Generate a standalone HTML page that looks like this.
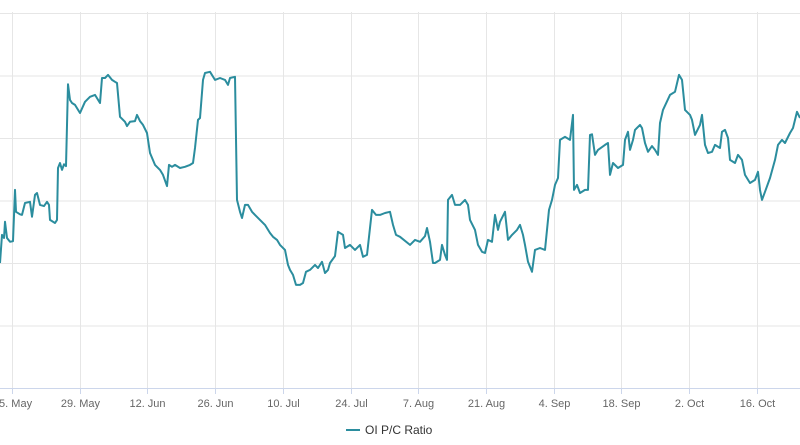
<!DOCTYPE html>
<html><head><meta charset="utf-8"><style>
body{margin:0;background:#fff;}
svg{display:block;font-family:"Liberation Sans",sans-serif;}
</style></head><body>
<svg id="chart" width="800" height="445" viewBox="0 0 800 445">
<g id="grid"></g>
<g id="xaxis"></g>
<path id="line" fill="none" stroke="#2b8d9e" stroke-width="2" stroke-linejoin="round"></path>
<g>
<line x1="346" y1="430" x2="360" y2="430" stroke="#2b8d9e" stroke-width="2"/>
<text x="365" y="434" font-size="12" fill="#333">OI P/C Ratio</text>
</g>
</svg>
<script>
const tickLabels=["15. May","29. May","12. Jun","26. Jun","10. Jul","24. Jul","7. Aug","21. Aug","4. Sep","18. Sep","2. Oct","16. Oct"];
const tickDays=[0,14,28,42,56,70,84,98,112,126,140,154];
const yTicks=[0,1,2,3,4,5,6];
const days=[-2.48,-2.07,-1.65,-1.45,-1.03,-0.41,0.21,0.62,0.83,1.65,2.07,2.69,3.72,4.14,4.76,5.17,5.79,6.62,7.24,7.65,7.86,8.89,9.31,9.51,9.93,10.34,10.75,11.17,11.58,11.99,12.41,13.03,14.06,15.10,16.13,17.16,18.20,18.61,19.23,19.85,20.68,21.30,21.71,22.33,23.37,23.78,24.40,25.44,25.85,26.47,27.09,27.92,28.54,29.57,30.61,31.23,32.05,32.47,33.09,33.71,34.74,35.78,36.81,37.43,37.84,38.46,38.88,39.50,39.91,40.95,41.98,43.01,44.05,44.67,45.08,46.12,46.53,47.15,47.56,48.18,48.80,49.63,50.25,51.29,52.32,53.35,53.97,54.80,55.42,56.46,57.08,57.49,58.11,58.73,59.56,60.18,60.80,61.63,62.66,63.28,64.11,64.73,65.35,65.76,66.80,67.42,68.45,68.86,69.90,70.93,71.97,72.59,73.41,74.45,75.28,76.10,77.14,78.17,78.79,79.41,80.24,82.31,83.34,84.37,85.41,85.82,86.44,87.06,87.48,88.51,88.92,89.54,89.96,90.16,90.99,91.61,92.65,93.68,94.30,94.71,95.75,96.37,97.20,97.82,98.44,99.26,99.88,100.50,100.92,101.95,102.57,103.40,104.43,105.05,105.67,106.09,106.71,107.54,108.16,109.19,110.22,111.05,111.67,112.29,112.91,113.33,114.36,115.39,116.01,116.22,116.84,117.46,118.50,119.12,119.53,119.94,120.56,121.18,122.63,123.25,123.66,124.28,125.32,126.35,126.77,127.39,127.80,128.42,128.84,129.87,130.28,130.90,131.52,132.35,132.97,133.59,134.01,134.63,136.07,137.11,137.94,138.56,139.18,140.21,140.62,141.24,142.28,142.69,143.31,143.93,144.76,145.38,146.41,146.83,147.45,148.07,148.48,149.52,150.14,150.96,151.58,152.62,153.65,154.27,154.69,155.10,155.72,156.75,157.79,158.41,159.24,159.86,160.89,161.51,161.93,162.34,162.96];
const ratios=[2.00,2.45,2.40,2.66,2.40,2.34,2.35,3.17,2.82,2.78,2.77,2.96,2.98,2.74,3.09,3.12,2.93,2.91,2.98,2.93,2.69,2.64,2.69,3.52,3.60,3.49,3.58,3.55,4.86,4.61,4.56,4.53,4.40,4.58,4.66,4.69,4.56,4.96,4.96,5.01,4.93,4.90,4.88,4.34,4.26,4.19,4.26,4.27,4.37,4.27,4.21,4.08,3.76,3.57,3.49,3.41,3.23,3.57,3.54,3.57,3.52,3.54,3.57,3.60,3.84,4.29,4.32,4.93,5.04,5.06,4.93,4.96,4.93,4.85,4.96,4.98,3.01,2.82,2.72,2.93,2.93,2.82,2.77,2.69,2.61,2.48,2.42,2.37,2.29,2.21,1.97,1.89,1.81,1.65,1.65,1.68,1.86,1.89,1.97,1.92,2.02,1.84,1.89,2.00,2.11,2.50,2.45,2.24,2.29,2.21,2.29,2.10,2.13,2.85,2.77,2.77,2.80,2.82,2.61,2.45,2.42,2.29,2.37,2.34,2.43,2.56,2.34,2.00,2.00,2.05,2.29,2.13,2.05,3.01,3.09,2.93,2.93,3.01,2.93,2.69,2.53,2.29,2.18,2.16,2.37,2.34,2.77,2.53,2.66,2.82,2.37,2.45,2.53,2.61,2.45,2.29,2.02,1.86,2.21,2.24,2.21,2.85,3.01,3.25,3.36,3.97,4.02,3.97,4.37,3.17,3.25,3.12,3.17,3.17,4.05,4.06,3.73,3.81,3.89,3.92,3.41,3.60,3.52,3.57,3.97,4.10,3.81,3.97,4.13,4.21,4.16,3.92,3.78,3.87,3.81,3.73,4.24,4.45,4.69,4.74,5.01,4.93,4.45,4.37,4.29,4.05,4.21,4.37,3.89,3.76,3.78,3.89,3.84,4.10,4.13,4.00,3.65,3.60,3.73,3.65,3.41,3.28,3.33,3.46,3.17,3.01,3.14,3.36,3.65,3.89,3.97,3.92,4.08,4.16,4.29,4.42,4.32];
const NS="http://www.w3.org/2000/svg";
const X0=12, PXDAY=67.7/14, YB=388, PXUNIT=62.5;
function xs(d){return X0+d*PXDAY;}
function ys(v){return YB-v*PXUNIT;}
const grid=document.getElementById('grid'), xa=document.getElementById('xaxis');
yTicks.forEach(t=>{
  if(t===0)return;
  const l=document.createElementNS(NS,'line');
  
  
  l.setAttribute('x1',0);l.setAttribute('x2',800);
  l.setAttribute('y1',ys(t)+0.5);l.setAttribute('y2',ys(t)+0.5);
  l.setAttribute('stroke','#e6e6e6');
  grid.appendChild(l);
});
tickDays.forEach((d,i)=>{
  const x=Math.round(xs(d))+0.5;
  const l=document.createElementNS(NS,'line');
  
  
  l.setAttribute('x1',x);l.setAttribute('x2',x);l.setAttribute('y1',12);l.setAttribute('y2',YB);
  l.setAttribute('stroke','#e6e6e6');
  grid.appendChild(l);
  const tk=document.createElementNS(NS,'line');
  
  
  tk.setAttribute('x1',x);tk.setAttribute('x2',x);tk.setAttribute('y1',YB);tk.setAttribute('y2',YB+6);
  tk.setAttribute('stroke','#ccd6eb');
  xa.appendChild(tk);
  const t=document.createElementNS(NS,'text');
  
  
  t.setAttribute('x',x);t.setAttribute('y',407);
  t.setAttribute('text-anchor','middle');t.setAttribute('font-size','11');t.setAttribute('fill','#666');
  t.textContent=tickLabels[i];
  xa.appendChild(t);
});
const ax=document.createElementNS(NS,'line');


ax.setAttribute('x1',0);ax.setAttribute('x2',800);ax.setAttribute('y1',YB+0.5);ax.setAttribute('y2',YB+0.5);
ax.setAttribute('stroke','#ccd6eb');
xa.appendChild(ax);
document.getElementById('line').setAttribute('d',days.map((d,i)=>(i?'L':'M')+xs(d).toFixed(1)+','+ys(ratios[i]).toFixed(1)).join(''));
</script>
</body></html>
